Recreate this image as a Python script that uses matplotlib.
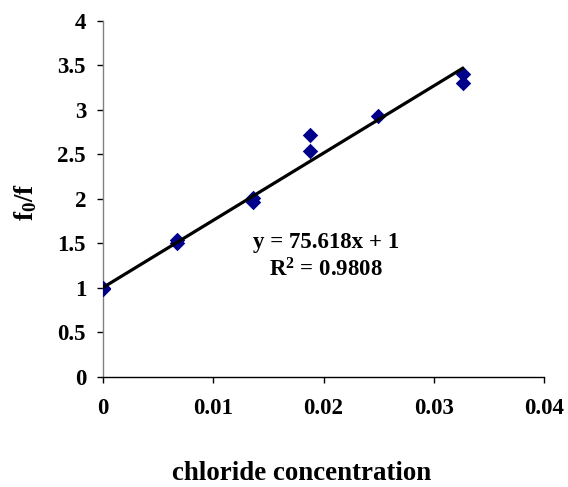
import matplotlib
matplotlib.use("Agg")
import matplotlib.pyplot as plt
import numpy as np

plt.rcParams['font.family'] = ['Liberation Serif', 'DejaVu Serif']
plt.rcParams['font.weight'] = 'bold'
plt.rcParams['mathtext.fontset'] = 'custom'
plt.rcParams['mathtext.rm'] = 'Liberation Serif:bold'
plt.rcParams['mathtext.bf'] = 'Liberation Serif:bold'
plt.rcParams['mathtext.it'] = 'Liberation Serif:bold'
plt.rcParams['mathtext.default'] = 'bf'

x_vals = [0.0, 0.0, 0.0067, 0.0067, 0.01358, 0.01358, 0.01878, 0.01878, 0.02497, 0.0326, 0.0326]
y_vals = [1.0, 0.99, 1.536, 1.50, 2.01, 1.96, 2.72, 2.54, 2.93, 3.40, 3.30]
slope = 75.618
intercept = 1.0
x_ticks = [0, 0.01, 0.02, 0.03, 0.04]
x_tick_labels = ['0', '0.01', '0.02', '0.03', '0.04']
y_ticks = [0, 0.5, 1, 1.5, 2, 2.5, 3, 3.5, 4]
y_tick_labels = ['0', '0.5', '1', '1.5', '2', '2.5', '3', '3.5', '4']

fig = plt.figure(figsize=(5.68, 4.87), dpi=100)
ax = fig.add_axes([102.7/568, 1 - 376.7/487, (544.3-102.7)/568, (376.7-20.7)/487])

ax.scatter(x_vals, y_vals, marker='D', s=62, color='#00008B', zorder=3, linewidths=0)
xf = np.array([min(x_vals), max(x_vals)])
ax.plot(xf, slope*xf + intercept, color='black', lw=2.3, zorder=4)

ax.set_xlim(0, 0.04)
ax.set_ylim(0, 4)
ax.set_xticks(x_ticks)
ax.set_xticklabels(x_tick_labels)
ax.set_yticks(y_ticks)
ax.set_yticklabels(y_tick_labels)
for s in ['top', 'right']:
    ax.spines[s].set_visible(False)
ax.spines['left'].set_color('#808080')
ax.spines['left'].set_linewidth(1.0)
ax.spines['bottom'].set_color('black')
ax.spines['bottom'].set_linewidth(1.0)
ax.tick_params(axis='both', direction='out', length=4, width=1, labelsize=16.5)
ax.tick_params(axis='x', pad=11)
ax.tick_params(axis='y', pad=8)
for lab in ax.get_xticklabels() + ax.get_yticklabels():
    lab.set_fontweight('bold')

ax.text(0.0202, 1.513, 'y = 75.618x + 1', ha='center', va='center', fontsize=16.5, fontweight='bold')
ax.text(0.0202, 1.2, r'R$^{2}$ = 0.9808', ha='center', va='center', fontsize=16.5, fontweight='bold')

fig.text(302/568, 1 - 474/487, 'chloride concentration', ha='center', va='center', fontsize=19.4, fontweight='bold')
fig.text(26/568, 1 - 202/487, r'f$_{0}$/f', rotation=90, ha='center', va='center', fontsize=19.4, fontweight='bold')

fig.savefig('out.png', dpi=100)
